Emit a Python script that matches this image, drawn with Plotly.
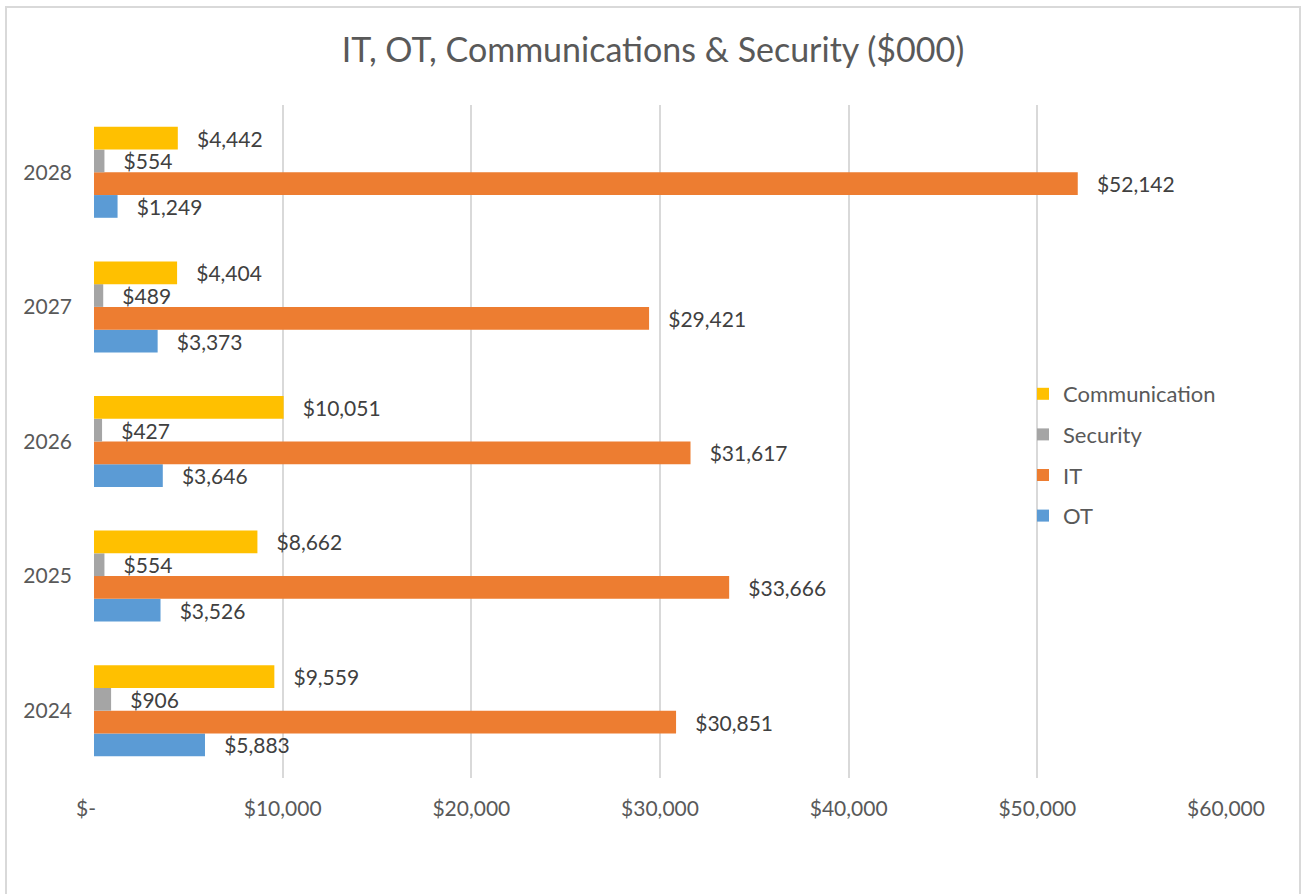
import plotly.graph_objects as go

# Spending by year, in $000
years = ["2024", "2025", "2026", "2027", "2028"]
ot = [5883, 3526, 3646, 3373, 1249]
it = [30851, 33666, 31617, 29421, 52142]
security = [906, 554, 427, 489, 554]
communication = [9559, 8662, 10051, 4404, 4442]

x_tickvals = [0, 10000, 20000, 30000, 40000, 50000, 60000]
x_ticktext = ["$-\u00a0\u00a0\u00a0", "$10,000", "$20,000", "$30,000",
              "$40,000", "$50,000", "$60,000"]

W, H = 1306, 894
ML, MR, MT, MB = 94, 80, 105, 116
FONT = "Lato, 'Open Sans', sans-serif"
PAD = "\u00a0" * 3

# bottom-to-top within each year group; legend lists them top-down in reverse
series = [
    ("OT", ot, "#5B9BD5"),
    ("IT", it, "#ED7D31"),
    ("Security", security, "#A5A5A5"),
    ("Communication", communication, "#FFC000"),
]

fig = go.Figure()
for i, (name, vals, color) in enumerate(series):
    fig.add_trace(go.Bar(
        name=name,
        y=years,
        x=vals,
        orientation="h",
        marker=dict(color=color, line=dict(width=0)),
        texttemplate=PAD + "$%{x:,}",
        textposition="outside",
        textfont=dict(family=FONT, size=21, color="#404040"),
        constraintext="none",
        cliponaxis=False,
        legendgroup=name,
        legendrank=len(series) - i,
        hoverinfo="skip",
    ))

# chart frame
pw, ph = W - ML - MR, H - MT - MB
def px_x(p):
    return (p - ML) / pw
def px_y(p):
    return (H - MB - p) / ph

fig.add_shape(type="rect", xref="paper", yref="paper",
              x0=px_x(6), x1=px_x(1300), y0=px_y(900), y1=px_y(7),
              line=dict(color="#D9D9D9", width=2), fillcolor="rgba(0,0,0,0)",
              layer="below")

fig.update_layout(
    width=W, height=H,
    margin=dict(l=ML, r=MR, t=MT, b=MB),
    paper_bgcolor="white", plot_bgcolor="white",
    barmode="group", bargap=0.324, bargroupgap=0,
    title=dict(text="IT, OT, Communications & Security ($000)",
               x=0.5, xanchor="center", y=1 - 50 / H, yanchor="middle",
               yref="container",
               font=dict(family=FONT, size=34, color="#595959")),
    font=dict(family=FONT, size=21, color="#595959"),
    showlegend=True,
    legend=dict(traceorder="grouped", x=px_x(1023), xanchor="left",
                y=px_y(455), yanchor="middle", tracegroupgap=9,
                bgcolor="rgba(0,0,0,0)",
                font=dict(family=FONT, size=22, color="#595959")),
    xaxis=dict(range=[0, 60000], tickvals=x_tickvals, ticktext=x_ticktext,
               showgrid=True, gridcolor="#D9D9D9", gridwidth=1.5,
               zeroline=False, showline=False, ticks="",
               ticklabelstandoff=16,
               tickfont=dict(family=FONT, size=21, color="#595959")),
    yaxis=dict(type="category", categoryorder="array", categoryarray=years,
               showgrid=False, zeroline=False, showline=False, ticks="",
               ticklabelstandoff=21,
               tickfont=dict(family=FONT, size=21, color="#595959")),
)

fig.write_html("out.html")
